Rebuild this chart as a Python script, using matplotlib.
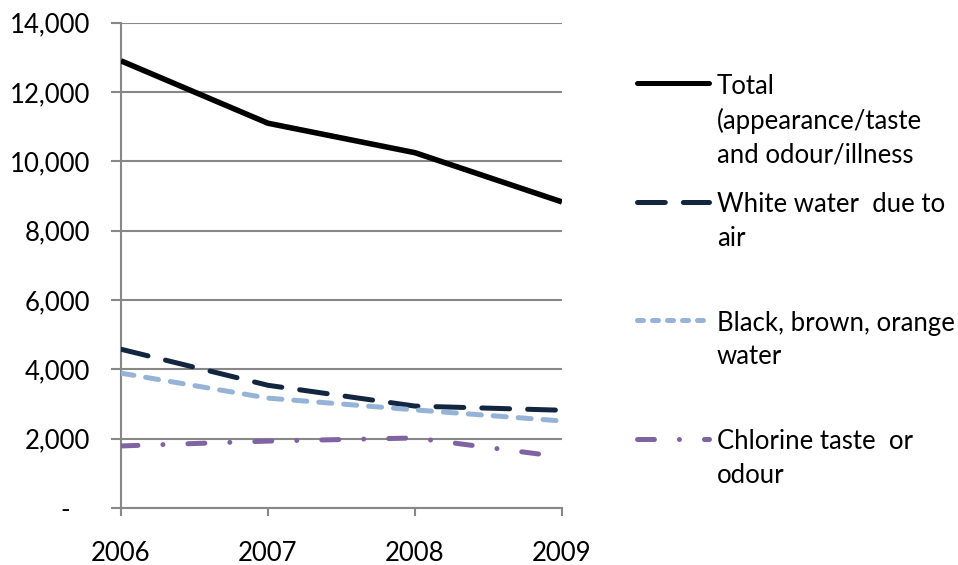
import matplotlib
matplotlib.use("Agg")
import matplotlib.pyplot as plt
from matplotlib.lines import Line2D
from matplotlib.ticker import FuncFormatter, MultipleLocator

# Data
years = ["2006", "2007", "2008", "2009"]
total = [12900, 11100, 10250, 8830]
white_water = [4580, 3540, 2940, 2820]
black_brown = [3890, 3170, 2830, 2510]
chlorine = [1790, 1930, 2020, 1470]

labels = [
    "Total\n(appearance/taste\nand odour/illness",
    "White water  due to\nair",
    "Black, brown, orange\nwater",
    "Chlorine taste  or\nodour",
]

plt.rcParams["font.family"] = ["Lato", "DejaVu Sans"]
plt.rcParams["lines.scale_dashes"] = False

grid_col = "#878787"
fs = 18.5

fig = plt.figure(figsize=(9.58, 5.65), dpi=100)
ax = fig.add_axes([0.1263, 0.1009, 0.4603, 0.8589])

x = range(len(years))
styles = [
    dict(color="black", linestyle="-", lw=4.0),
    dict(color="#13263f", linestyle=(0, (20, 13)), lw=3.6),
    dict(color="#95b3d7", linestyle=(0, (9.4, 8.6)), lw=3.6),
    dict(color="#8064a2", linestyle=(0, (12.2, 18, 0.01, 18)), lw=3.6),
]
series = [total, white_water, black_brown, chlorine]
for vals, st in zip(series, styles):
    ax.plot(x, vals, solid_joinstyle="round", dash_capstyle="round",
            solid_capstyle="butt", zorder=3, **st)

ax.set_xlim(0, 3)
ax.set_ylim(0, 14000)
ax.set_xticks(list(x))
ax.set_xticklabels(years)
ax.yaxis.set_major_locator(MultipleLocator(2000))
ax.yaxis.set_major_formatter(FuncFormatter(lambda v, p: "-   " if v == 0 else f"{v:,.0f}"))

ax.grid(axis="y", color=grid_col, lw=1.5)
ax.set_axisbelow(True)
for side in ["top", "right"]:
    ax.spines[side].set_visible(False)
for side in ["left", "bottom"]:
    ax.spines[side].set_color(grid_col)
    ax.spines[side].set_linewidth(1.5)
ax.tick_params(axis="y", length=7, width=1.5, color=grid_col, labelsize=fs, pad=15)
ax.tick_params(axis="x", length=6, width=1.5, color=grid_col, labelsize=fs, pad=18)

# legend built by hand so that each entry sits at an even step
leg_styles = [
    dict(color="black", linestyle="-"),
    dict(color="#13263f", linestyle=(0, (20, 13))),
    dict(color="#95b3d7", linestyle=(0, (4.3, 6.5))),
    dict(color="#8064a2", linestyle=(0, (12.2, 18, 0.01, 18))),
]
x0, x1, xt = 637 / 958, 709 / 958, 717 / 958
for i, (lab, st) in enumerate(zip(labels, leg_styles)):
    y = 1 - (83 + i * 118.5) / 565
    fig.add_artist(Line2D([x0, x1], [y, y], transform=fig.transFigure, lw=3.6,
                          dash_capstyle="round", solid_capstyle="round", **st))
    fig.text(xt, y + 0.016, lab, fontsize=fs, va="top", ha="left", linespacing=1.42)

fig.savefig("out.png", dpi=100)
